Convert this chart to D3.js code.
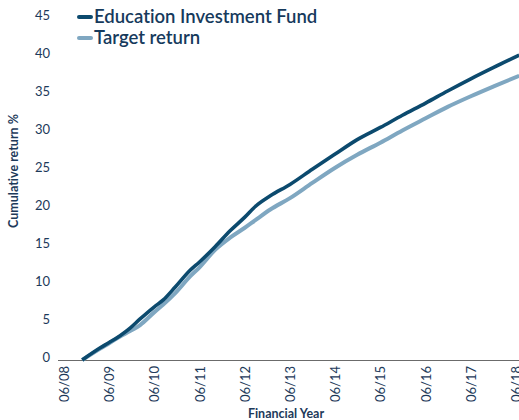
<!DOCTYPE html>
<html>
<head>
<meta charset="utf-8">
<script src="https://cdn.jsdelivr.net/npm/d3@7"></script>
<style>
  body { margin: 0; background: #fff; }
  svg text { font-family: Lato, "Open Sans", sans-serif; fill: #1d3a5a; font-variant-ligatures: none; }
</style>
</head>
<body>
<div id="chart"></div>
<script>
// values, cumulative return %
const dates = ['2008-11-24', '2009-04-19', '2009-06-30', '2009-09-26', '2009-12-16', '2010-03-07',
  '2010-06-30', '2010-09-10', '2010-12-16', '2011-04-15', '2011-06-30', '2011-11-03', '2012-03-03',
  '2012-06-30', '2012-09-23', '2013-01-22', '2013-06-30', '2013-12-27', '2014-06-30', '2014-12-25',
  '2015-06-30', '2015-12-25', '2016-06-30', '2016-12-25', '2017-06-30', '2018-01-01', '2018-07-26'];
const fundValues = [0, 1.6, 2.3, 3.2, 4.2, 5.4, 7.0, 7.9, 9.6, 11.8, 12.9, 14.9, 17.0,
  18.8, 20.2, 21.6, 23.1, 25.1, 27.1, 29.0, 30.6, 32.2, 33.8, 35.4, 37.0, 38.5, 40.1];
const targetValues = [0, 1.5, 2.2, 3.1, 3.8, 4.6, 6.3, 7.3, 8.8, 11.0, 12.2, 14.5, 16.1,
  17.4, 18.4, 19.8, 21.3, 23.3, 25.3, 27.0, 28.6, 30.2, 31.8, 33.3, 34.7, 36.0, 37.4];
const yTicks = [0, 5, 10, 15, 20, 25, 30, 35, 40, 45];
const xTickYears = [2008, 2009, 2010, 2011, 2012, 2013, 2014, 2015, 2016, 2017, 2018];
const seriesNames = ['Education Investment Fund', 'Target return'];
const seriesColors = ['#0c4a6e', '#7fa7c1'];

const width = 519;
const height = 420;

const parse = d3.timeParse('%Y-%m-%d');
const series = [fundValues, targetValues].map((vals, i) => ({
  name: seriesNames[i],
  color: seriesColors[i],
  points: vals.map((v, j) => ({ date: parse(dates[j]), value: v })),
}));

const svg = d3.select('#chart').append('svg')
  .attr('width', width)
  .attr('height', height);

const x = d3.scaleTime()
  .domain([new Date(2008, 5, 30), new Date(2018, 5, 30)])
  .range([64, 516]);

const y = d3.scaleLinear()
  .domain([0, 45])
  .range([360, 18]);

// y axis labels only, no line
const yAxis = svg.append('g')
  .attr('transform', 'translate(50,0)')
  .call(d3.axisLeft(y).tickValues(yTicks).tickSize(0).tickPadding(0));
yAxis.select('.domain').remove();
yAxis.selectAll('text')
  .attr('dy', '0.32em')
  .attr('y', -3)
  .style('font-size', '13px')
  .style('fill', '#1d3a5a');

// x axis
const xAxis = svg.append('g')
  .attr('transform', `translate(0,${y(0)})`)
  .call(d3.axisBottom(x)
    .tickValues(xTickYears.map((yr) => new Date(yr, 5, 30)))
    .tickFormat(d3.timeFormat('%m/%y'))
    .tickSize(0));
xAxis.select('.domain').remove();
xAxis.selectAll('text')
  .attr('transform', 'rotate(-90)')
  .attr('text-anchor', 'end')
  .attr('x', -6)
  .attr('y', 0)
  .attr('dy', '0.35em')
  .style('font-size', '13px')
  .style('fill', '#1d3a5a');

svg.append('line')
  .attr('x1', 58)
  .attr('x2', width)
  .attr('y1', y(0) + 0.5)
  .attr('y2', y(0) + 0.5)
  .attr('stroke', '#6b6b6b')
  .attr('stroke-width', 1.2);

const line = d3.line()
  .x((d) => x(d.date))
  .y((d) => y(d.value))
  .curve(d3.curveMonotoneX);

// target drawn first, fund on top
svg.selectAll('.series')
  .data(series.slice().reverse())
  .enter().append('path')
  .attr('class', 'series')
  .attr('d', (d) => line(d.points))
  .attr('fill', 'none')
  .attr('stroke', (d) => d.color)
  .attr('stroke-width', (d, i) => (i === 0 ? 4 : 3.6))
  .attr('stroke-linejoin', 'round');

// titles
svg.append('text')
  .attr('transform', 'translate(18,171) rotate(-90)')
  .attr('text-anchor', 'middle')
  .style('font-size', '12.5px')
  .style('font-weight', 'bold')
  .text('Cumulative return %');

svg.append('text')
  .attr('x', 286)
  .attr('y', 418)
  .attr('text-anchor', 'middle')
  .style('font-size', '12.5px')
  .style('font-weight', 'bold')
  .text('Financial Year');

// legend
const legend = svg.selectAll('.legend')
  .data(series)
  .enter().append('g')
  .attr('class', 'legend')
  .attr('transform', (d, i) => `translate(79,${17 + i * 21})`);

legend.append('line')
  .attr('x1', 0)
  .attr('x2', 12)
  .attr('stroke', (d) => d.color)
  .attr('stroke-width', 4)
  .attr('stroke-linecap', 'round');

legend.append('text')
  .attr('x', 15)
  .attr('dy', '0.35em')
  .style('font-size', '18.5px')
  .style('font-weight', 600)
  .style('fill', '#163a5c')
  .text((d) => d.name);
</script>
</body>
</html>
